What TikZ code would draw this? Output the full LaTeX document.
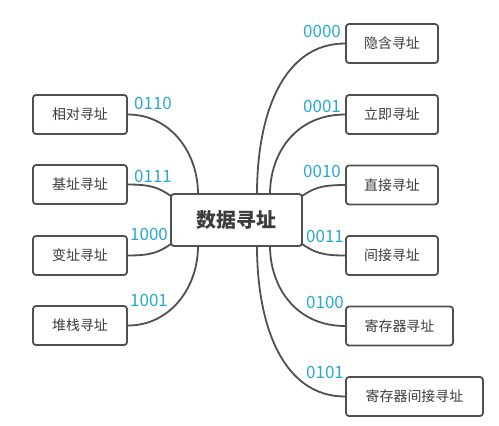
\documentclass[tikz,border=0pt]{standalone}
\usepackage{fontspec}
\setmainfont{Noto Sans CJK SC}
\definecolor{bordercol}{RGB}{80,80,80}
\definecolor{txtcol}{RGB}{60,60,60}
\definecolor{codecol}{RGB}{40,170,210}
\tikzset{
  leaf/.style={draw=bordercol, line width=1.8bp, rounded corners=3bp, fill=white,
    minimum height=39bp, inner sep=0pt, text=txtcol, font=\fontsize{14}{16}\selectfont},
  hub/.style={draw=bordercol, line width=1.8bp, rounded corners=3bp, fill=white,
    minimum width=131bp, minimum height=52bp, inner sep=0pt, text=txtcol,
    font=\fontsize{20}{22}\selectfont\bfseries},
  link/.style={draw=bordercol, line width=1.8bp},
  code/.style={text=codecol, inner sep=0pt, font=\fontsize{17}{18}\selectfont}
}
\begin{document}
\begin{tikzpicture}[x=1bp,y=-1bp]
\useasboundingbox[fill=white] (0,0) rectangle (499,425);
% attachment points on hub
\coordinate (ct1) at (198,194);
\coordinate (ct2) at (257,194);
\coordinate (ct3) at (270,194);
\coordinate (cb1) at (198,246);
\coordinate (cb2) at (257,246);
\coordinate (cb3) at (270,246);
\coordinate (cl1) at (171,196);
\coordinate (cl2) at (171,244);
\coordinate (cr1) at (302,196);
\coordinate (cr2) at (302,244);
% left leaves
\node[leaf, minimum width=94bp] (l1) at (80,114.5) {相对寻址};
\node[leaf, minimum width=94bp] (l2) at (80,184.5) {基址寻址};
\node[leaf, minimum width=94bp] (l3) at (80,255.5) {变址寻址};
\node[leaf, minimum width=94bp] (l4) at (80,325.5) {堆栈寻址};
% right leaves
\node[leaf, minimum width=92bp] (r1) at (392,43.5) {隐含寻址};
\node[leaf, minimum width=92bp] (r2) at (392,114.5) {立即寻址};
\node[leaf, minimum width=92bp] (r3) at (392,185) {直接寻址};
\node[leaf, minimum width=92bp] (r4) at (392,255.5) {间接寻址};
\node[leaf, minimum width=107bp] (r5) at (399.5,326) {寄存器寻址};
\node[leaf, minimum width=137bp] (r6) at (414.5,396.5) {寄存器间接寻址};
% links
\path[link] (l1.east) .. controls +(42,0) and +(0,-42) .. (ct1);
\path[link] (l2.east) .. controls +(24,0) and +(-12,-8) .. (cl1);
\path[link] (l3.east) .. controls +(24,0) and +(-12,8) .. (cl2);
\path[link] (l4.east) .. controls +(42,0) and +(0,42) .. (cb1);
\path[link] (r1.west) .. controls +(-62,0) and +(0,-80) .. (ct2);
\path[link] (r2.west) .. controls +(-50,0) and +(0,-40) .. (ct3);
\path[link] (r3.west) .. controls +(-24,0) and +(12,-8) .. (cr1);
\path[link] (r4.west) .. controls +(-24,0) and +(12,8) .. (cr2);
\path[link] (r5.west) .. controls +(-50,0) and +(0,40) .. (cb3);
\path[link] (r6.west) .. controls +(-62,0) and +(0,80) .. (cb2);
% hub on top of links
\node[hub] (c) at (236.5,220) {数据寻址};
% codes
\node[code] (k1) at (153,103) {0110};
\node[code] (k2) at (153,176) {0111};
\node[code] (k3) at (149,234) {1000};
\node[code] (k4) at (149,300) {1001};
\node[code] (k5) at (322,31) {0000};
\node[code] (k6) at (322,106) {0001};
\node[code] (k7) at (322,171) {0010};
\node[code] (k8) at (325,236) {0011};
\node[code] (k9) at (325,302) {0100};
\node[code] (k10) at (325,372) {0101};
\end{tikzpicture}
\end{document}
